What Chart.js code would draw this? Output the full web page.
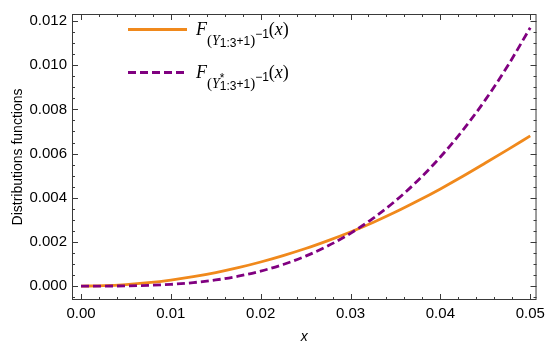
<!DOCTYPE html>
<html>
<head>
<meta charset="utf-8">
<script src="https://cdn.jsdelivr.net/npm/chart.js@4"></script>
<style>
  html, body { margin: 0; padding: 0; background: #fff; }
  #wrap { width: 550px; height: 352px; }
</style>
</head>
<body>
<div id="wrap"><canvas id="distChart"></canvas></div>
<script>
// x grid points
const xValues = [0, 0.0025, 0.005, 0.0075, 0.01, 0.0125, 0.015, 0.0175, 0.02, 0.0225, 0.025,
  0.0275, 0.03, 0.0325, 0.035, 0.0375, 0.04, 0.0425, 0.045, 0.0475, 0.05];
// F_(Y_{1:3}+1)^-1 (x)  (orange, solid)
const orangeValues = [0, 0.000017, 0.000068, 0.000153, 0.000272, 0.000425, 0.000612, 0.000833,
  0.00109, 0.00138, 0.0017, 0.00206, 0.00245, 0.00288, 0.00335, 0.00386, 0.0044, 0.00497,
  0.00557, 0.00618, 0.0068];
// F_(Y*_{1:3}+1)^-1 (x)  (purple, dashed)
const purpleValues = [0, 0.000001, 0.000009, 0.000032, 0.000078, 0.000157, 0.000277, 0.000447,
  0.000677, 0.000977, 0.001355, 0.001823, 0.002389, 0.003065, 0.003859, 0.004782, 0.005845,
  0.007058, 0.008431, 0.009975, 0.0117];
const xTicks = [0, 0.01, 0.02, 0.03, 0.04, 0.05];
const yTicks = [0, 0.002, 0.004, 0.006, 0.008, 0.010, 0.012];

const ORANGE = "rgb(240,137,28)";
const PURPLE = "rgb(128,0,128)";
const FRAME = "#3a3a3a";

function toPoints(ys) {
  return xValues.map((x, i) => ({ x: x, y: ys[i] }));
}

// draws a run of text pieces [text, font, dy] left to right, returns end x
function drawRun(ctx, x, y, parts) {
  parts.forEach(([t, font, dy]) => {
    ctx.font = font;
    ctx.fillText(t, x, y + dy);
    x += ctx.measureText(t).width;
  });
  return x;
}

const framePlugin = {
  id: "frame",
  afterDatasetsDraw(chart) {
    const { ctx, chartArea: a, scales } = chart;
    const xs = scales.x, ys = scales.y;
    ctx.save();
    ctx.strokeStyle = FRAME;
    ctx.lineWidth = 1;
    ctx.strokeRect(a.left + 0.5, a.top + 0.5, a.right - a.left - 1, a.bottom - a.top - 1);

    ctx.beginPath();
    // x ticks, inward on bottom and top
    for (let i = 0; i <= 26; i++) {
      const v = -0.002 + i * 0.002;
      if (v < xs.min || v > xs.max) continue;
      const px = Math.round(xs.getPixelForValue(v)) + 0.5;
      const major = Math.abs(Math.round(v * 100) - v * 100) < 1e-6;
      const len = major ? 6 : 3;
      ctx.moveTo(px, a.bottom); ctx.lineTo(px, a.bottom - len);
      ctx.moveTo(px, a.top); ctx.lineTo(px, a.top + len);
    }
    // y ticks, inward on left and right
    for (let i = 0; i <= 26; i++) {
      const v = -0.0005 + i * 0.0005;
      if (v < ys.min || v > ys.max) continue;
      const py = Math.round(ys.getPixelForValue(v)) + 0.5;
      const major = Math.abs(Math.round(v * 500) - v * 500) < 1e-6;
      const len = major ? 6 : 3;
      ctx.moveTo(a.left, py); ctx.lineTo(a.left + len, py);
      ctx.moveTo(a.right, py); ctx.lineTo(a.right - len, py);
    }
    ctx.stroke();

    // legend
    ctx.lineWidth = 2.8;
    ctx.strokeStyle = ORANGE;
    ctx.beginPath(); ctx.moveTo(128, 29.5); ctx.lineTo(187, 29.5); ctx.stroke();
    ctx.strokeStyle = PURPLE;
    ctx.setLineDash([8, 4]);
    ctx.beginPath(); ctx.moveTo(128, 72.5); ctx.lineTo(187, 72.5); ctx.stroke();
    ctx.setLineDash([]);

    ctx.fillStyle = "#000";
    ctx.textBaseline = "alphabetic";
    const big = "italic 18px 'Liberation Serif'";
    const par = "18px 'Liberation Serif'";
    const sPar = "15px 'Liberation Serif'";
    const sY = "italic 14px 'Liberation Serif'";
    const sNum = "12px 'Liberation Sans'";
    const tail = [["\u22121", sNum, 3], ["(", par, 0], ["x", big, 0], [")", par, 0]];
    drawRun(ctx, 196, 35, [
      ["F", big, 0], ["(", sPar, 10], ["\u03A5", sY, 10], ["1:3", sNum, 12], ["+1", sNum, 10],
      [")", sPar, 10]
    ].concat(tail));
    const base2 = 78;
    const yEnd = drawRun(ctx, 196, base2, [["F", big, 0], ["(", sPar, 10], ["\u03A5", sY, 10]]);
    drawRun(ctx, yEnd, base2, [["*", sNum, 4]]);
    drawRun(ctx, yEnd, base2, [["1:3", sNum, 12], ["+1", sNum, 10], [")", sPar, 10]].concat(tail));
    ctx.restore();
  }
};

const tickFont = { family: "'Liberation Sans', Arial, sans-serif", size: 15 };

new Chart(document.getElementById("distChart").getContext("2d"), {
  type: "line",
  data: {
    datasets: [
      {
        label: "orange",
        data: toPoints(orangeValues),
        borderColor: ORANGE,
        borderWidth: 2.8,
        pointRadius: 0,
        cubicInterpolationMode: "monotone",
        fill: false,
        order: 2
      },
      {
        label: "purple",
        data: toPoints(purpleValues),
        borderColor: PURPLE,
        borderWidth: 2.8,
        borderDash: [8, 4],
        pointRadius: 0,
        cubicInterpolationMode: "monotone",
        fill: false,
        order: 1
      }
    ]
  },
  options: {
    responsive: true,
    maintainAspectRatio: false,
    animation: false,
    events: [],
    layout: { padding: { left: 0, right: 13, top: 13, bottom: 0 } },
    plugins: { legend: { display: false }, tooltip: { enabled: false } },
    scales: {
      x: {
        type: "linear",
        min: -0.001,
        max: 0.0507,
        grid: { display: false, drawTicks: false },
        border: { display: false },
        afterFit(scale) { scale.height = 52; },
        afterBuildTicks(scale) { scale.ticks = xTicks.map(v => ({ value: v })); },
        ticks: {
          color: "#000",
          font: tickFont,
          padding: 5,
          maxRotation: 0,
          callback: v => v.toFixed(2)
        },
        title: {
          display: true,
          text: "x",
          color: "#000",
          font: { family: "'Liberation Sans', Arial, sans-serif", size: 14, style: "italic" },
          padding: { top: 0, bottom: 6 }
        }
      },
      y: {
        min: -0.00063,
        max: 0.01232,
        grid: { display: false, drawTicks: false },
        border: { display: false },
        afterFit(scale) { scale.width = 72; },
        afterBuildTicks(scale) { scale.ticks = yTicks.map(v => ({ value: v })); },
        ticks: {
          color: "#000",
          font: tickFont,
          padding: 5,
          callback: v => v.toFixed(3)
        },
        title: {
          display: true,
          text: "Distributions functions",
          color: "#000",
          font: { family: "'Liberation Sans', Arial, sans-serif", size: 14 },
          padding: { top: 10, bottom: 0 }
        }
      }
    }
  },
  plugins: [framePlugin]
});
</script>
</body>
</html>
